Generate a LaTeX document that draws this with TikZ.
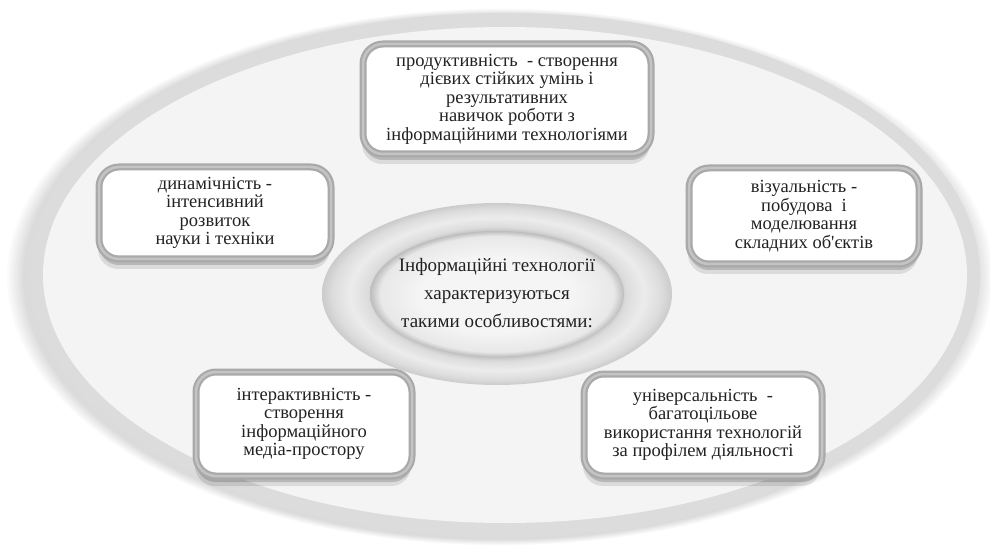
\documentclass[tikz,border=0pt]{standalone}
\usepackage{fontspec}
\setmainfont{Liberation Serif}
\usetikzlibrary{shadows}
\definecolor{bggray}{HTML}{F4F4F4}
\definecolor{rimgray}{HTML}{DCDCDC}
\definecolor{boxborder}{HTML}{A9A9A9}
\definecolor{boxinner}{HTML}{C4C4C4}
\definecolor{txt}{HTML}{222222}
\definecolor{ringout}{HTML}{CBCBCB}
\definecolor{ringmid}{HTML}{DCDCDC}
\definecolor{ringlight}{HTML}{ECECEC}
\definecolor{ringin}{HTML}{BDBDBD}
\definecolor{corein}{HTML}{F5F5F5}
\definecolor{coreout}{HTML}{E8E8E8}
\pgfdeclareradialshading{ringshade}{\pgfpoint{0bp}{0bp}}{%
  color(0bp)=(ringin); color(17bp)=(ringin); color(18.5bp)=(ringmid);
  color(21bp)=(ringlight); color(23.5bp)=(ringmid); color(25bp)=(ringout); color(50bp)=(ringout)}
\pgfdeclareradialshading{coreshade}{\pgfpoint{0bp}{0bp}}{%
  color(0bp)=(corein); color(15bp)=(corein); color(23bp)=(coreout); color(25bp)=(ringin); color(50bp)=(ringin)}
\tikzset{
  featbox/.style={draw=boxborder, line width=7pt, fill=white, rounded corners=20pt,
    align=center, inner sep=0pt, text=txt,
    font=\fontsize{18.5}{18.5}\selectfont,
    general shadow={shadow yshift=-10pt, shadow xshift=-1pt, opacity=.10, fill=black},
    general shadow={shadow yshift=-6pt, opacity=.16, fill=black},
    postaction={draw=boxinner, line width=2.5pt}},
  coretext/.style={align=center, inner sep=0pt, text=txt,
    font=\fontsize{19}{28}\selectfont}
}
\begin{document}
\begin{tikzpicture}[x=1pt,y=-1pt]
\useasboundingbox (0,0) rectangle (990,553);
\fill[white] (0,0) rectangle (990,553);
% outer ellipse soft shadow
\foreach \i in {1,...,9}{
  \pgfmathsetmacro{\rx}{475+2*\i}
  \pgfmathsetmacro{\ry}{262+0.7*\i}
  \fill[black, opacity=0.014] (500,277) ellipse [x radius=\rx pt, y radius=\ry pt];
}
% outer rim and interior
\fill[rimgray] (505,275) ellipse [x radius=475pt, y radius=262pt];
\fill[bggray] (505,275) ellipse [x radius=462pt, y radius=248pt];
% central ring
\shade[shading=ringshade] (497,294) ellipse [x radius=175pt, y radius=91pt];
\shade[shading=coreshade] (497,294) ellipse [x radius=127pt, y radius=63pt];
\node[coretext] (core) at (497,293) {Інформаційні технології\\характеризуються\\такими особливостями:};
% feature boxes
\node[featbox, minimum width=288pt, minimum height=110pt] (prod) at (507,99)
  {продуктивність\ \ - створення\\дієвих стійких умінь і\\результативних\\навичок роботи з\\інформаційними технологіями};
\node[featbox, minimum width=232pt, minimum height=92pt] (dyn) at (215,213)
  {динамічність -\\інтенсивний\\розвиток\\науки і техніки};
\node[featbox, minimum width=230pt, minimum height=96pt] (vis) at (804,216)
  {візуальність -\\побудова\ \ і\\моделювання\\складних об\textquotesingle єктів};
\node[featbox, minimum width=216pt, minimum height=104pt] (inter) at (304,424)
  {інтерактивність -\\створення\\інформаційного\\медіа-простору};
\node[featbox, minimum width=238pt, minimum height=102pt] (univ) at (703,425)
  {універсальність\ \ -\\багатоцільове\\використання технологій\\за профілем діяльності};
\end{tikzpicture}
\end{document}
